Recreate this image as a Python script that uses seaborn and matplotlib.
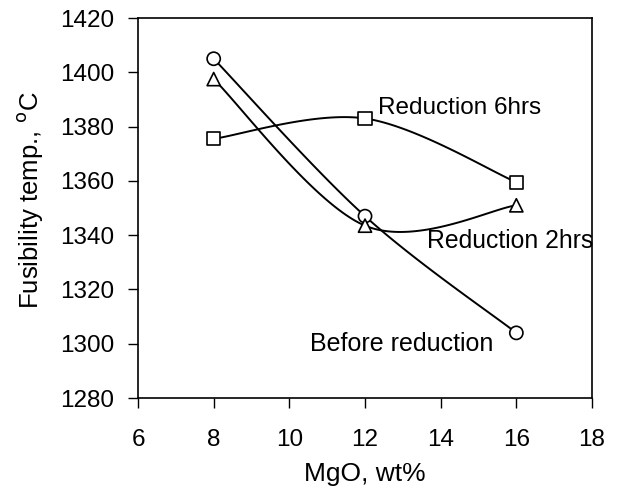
import numpy as np
import pandas as pd
import matplotlib
matplotlib.use('Agg')
import matplotlib.pyplot as plt
import seaborn as sns

# Data
mgo = [8, 12, 16]
before_reduction = [1405, 1347, 1304]
reduction_2hrs = [1397.5, 1343.5, 1351]
reduction_6hrs = [1375.5, 1383, 1359.5]
series_names = ['Before reduction', 'Reduction 2hrs', 'Reduction 6hrs']
series_markers = {'Before reduction': 'o', 'Reduction 2hrs': '^', 'Reduction 6hrs': 's'}
x_ticks = [6, 8, 10, 12, 14, 16, 18]
y_ticks = [1280, 1300, 1320, 1340, 1360, 1380, 1400, 1420]

sns.set_style('ticks')
plt.rcParams['font.family'] = ['Liberation Sans', 'DejaVu Sans']
plt.rcParams['text.color'] = 'black'
plt.rcParams['axes.labelcolor'] = 'black'


def smooth(xs, ys, n=50):
    # Excel-style smoothed line: cubic Bezier through the points
    pts = np.column_stack([xs, ys]).astype(float)
    padded = np.vstack([pts[0], pts, pts[-1]])
    t = np.linspace(0, 1, n)[:, None]
    segs = []
    for i in range(len(pts) - 1):
        p0, p1, p2, p3 = padded[i], padded[i + 1], padded[i + 2], padded[i + 3]
        c1 = p1 + (p2 - p0) / 6
        c2 = p2 - (p3 - p1) / 6
        segs.append((1 - t) ** 3 * p1 + 3 * (1 - t) ** 2 * t * c1
                    + 3 * (1 - t) * t ** 2 * c2 + t ** 3 * p2)
    return np.vstack(segs)


points_df = pd.DataFrame({
    'MgO': mgo * 3,
    'temp': before_reduction + reduction_2hrs + reduction_6hrs,
    'series': np.repeat(series_names, len(mgo)),
})

curve_parts = []
for name, vals in zip(series_names, [before_reduction, reduction_2hrs, reduction_6hrs]):
    c = smooth(mgo, vals)
    curve_parts.append(pd.DataFrame({'MgO': c[:, 0], 'temp': c[:, 1], 'series': name}))
curve_df = pd.concat(curve_parts, ignore_index=True)

fs = 17.5
fig = plt.figure(figsize=(6.17, 4.91), dpi=100)
ax = fig.add_axes([0.2237, 0.1894, 0.7358, 0.7739])

sns.lineplot(data=curve_df, x='MgO', y='temp', units='series', estimator=None,
             sort=False, color='black', linewidth=1.4, ax=ax, legend=False)
sns.scatterplot(data=points_df, x='MgO', y='temp', style='series',
                markers=series_markers, s=90, facecolor='white',
                edgecolor='black', linewidth=1.2, ax=ax, legend=False, zorder=3)

ax.set_xlim(6, 18)
ax.set_ylim(1280, 1420)
ax.set_xticks(x_ticks)
ax.set_yticks(y_ticks)
ax.tick_params(direction='out', length=7, width=1, labelsize=fs, colors='black')
ax.tick_params(axis='x', pad=15)
ax.tick_params(axis='y', pad=10)
for sp in ax.spines.values():
    sp.set_visible(True)
    sp.set_color('black')
    sp.set_linewidth(1.2)

ax.set_xlabel('MgO, wt%', fontsize=19, labelpad=8)
ax.set_ylabel('Fusibility temp., $^{\\mathrm{o}}$C', fontsize=18.5)
ax.yaxis.set_label_coords(-0.205, 0.52)

ax.text(12.34, 1387, 'Reduction 6hrs', fontsize=fs, va='center', ha='left')
ax.text(13.64, 1338, 'Reduction 2hrs', fontsize=17.8, va='center', ha='left', clip_on=False)
ax.text(10.55, 1300, 'Before reduction', fontsize=18, va='center', ha='left')

fig.savefig('out.png', dpi=100)
